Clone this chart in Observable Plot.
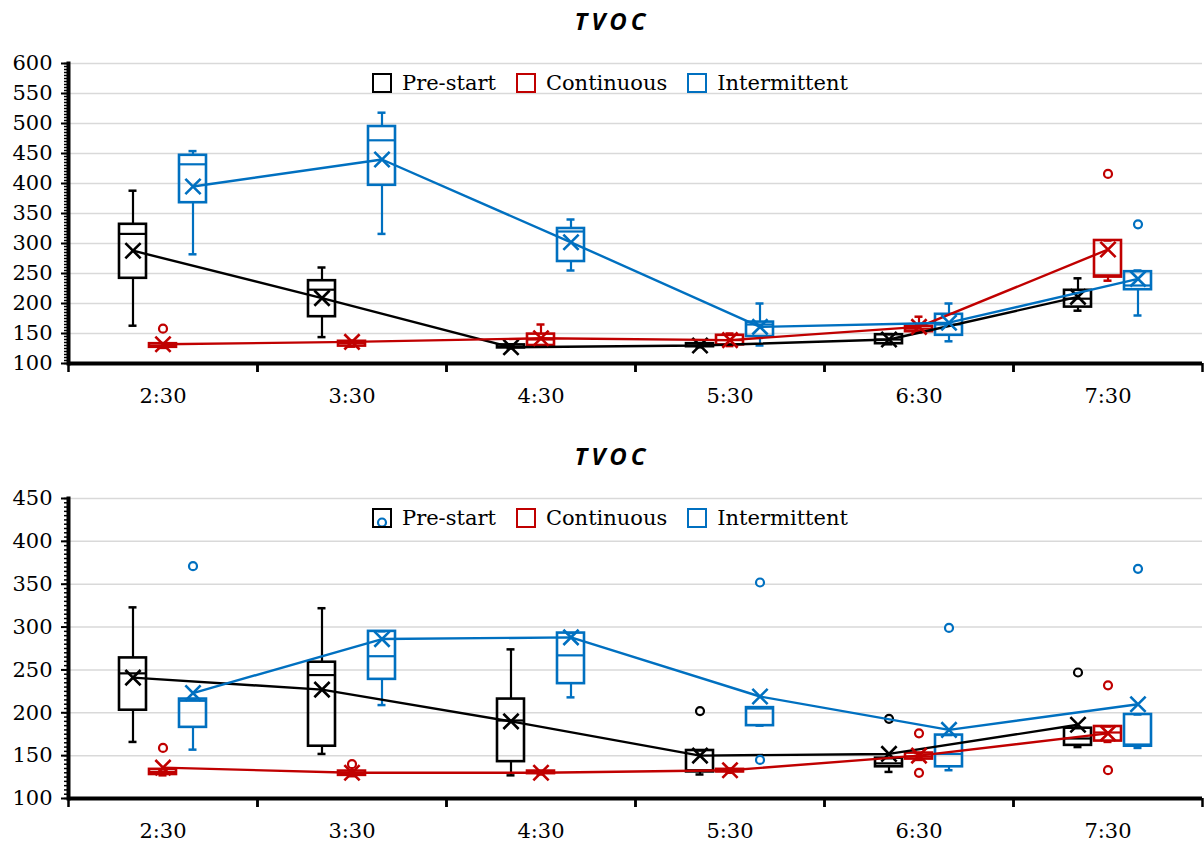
<!DOCTYPE html>
<html><head><meta charset="utf-8">
<script src="https://cdn.jsdelivr.net/npm/d3@7"></script>
<script src="https://cdn.jsdelivr.net/npm/@observablehq/plot@0.6"></script>
<style>
body{margin:0;background:#fff;width:1204px;height:845px;position:relative;overflow:hidden;color:#000;}
.title{position:absolute;left:10px;width:1204px;text-align:center;font:italic bold 24px "Open Sans";letter-spacing:4px;line-height:30px;}
.legend{position:absolute;display:flex;align-items:center;font:21px "DejaVu Serif";line-height:24px;}
.sw{display:inline-block;box-sizing:border-box;width:20px;height:20px;border:2.5px solid;margin-right:10px;}
.item{display:flex;align-items:center;margin-right:20px;}
.chart{position:absolute;left:0;}
</style></head><body>
<script>
const times = ["2:30","3:30","4:30","5:30","6:30","7:30"];
const series = ["Pre-start","Continuous","Intermittent"];
const seriesColors = ["#000000","#c00000","#0070c0"];
const chartTitle = "TVOC";

// ---------- Top chart ----------
const topPreLo   = [163, 144, 125, 127, 132, 188];
const topPreQ1   = [242, 178, 126, 128, 133, 194];
const topPreMed  = [316, 223, 128, 130, 140, 208];
const topPreQ3   = [332, 238, 131, 133, 148, 222];
const topPreHi   = [388, 260, 132, 134, 149, 242];
const topPreMean = [288, 209, 127, 130, 140, 211];
const topPreOut  = [[], [], [], [], [], []];

const topConLo   = [126, 128, 129, 129, 152, 238];
const topConQ1   = [127, 129, 130, 131, 153, 244];
const topConMed  = [130, 134, 140, 139, 158, 247];
const topConQ3   = [133, 137, 149, 147, 162, 305];
const topConHi   = [134, 138, 165, 150, 178, 305];
const topConMean = [132, 136, 142, 139, 161, 290];
const topConOut  = [[158], [], [], [], [], [416]];

const topIntLo   = [282, 316, 255, 130, 137, 180];
const topIntQ1   = [368, 397, 270, 145, 147, 223];
const topIntMed  = [432, 472, 320, 165, 165, 230];
const topIntQ3   = [447, 495, 325, 169, 182, 253];
const topIntHi   = [454, 518, 340, 200, 200, 255];
const topIntMean = [395, 440, 302, 161, 168, 241];
const topIntOut  = [[], [], [], [], [], [332]];

// ---------- Bottom chart ----------
const botPreLo   = [166, 152, 127, 128, 131, 160];
const botPreQ1   = [203, 161, 143, 131, 137, 162];
const botPreMed  = [246, 244, 191, 133, 141, 170];
const botPreQ3   = [264, 259, 216, 156, 147, 182];
const botPreHi   = [323, 322, 274, 156, 147, 182];
const botPreMean = [241, 227, 190, 150, 152, 186];
const botPreOut  = [[], [], [], [202], [193], [247]];

const botConLo   = [127, 126, 128, 130, 145, 166];
const botConQ1   = [128, 127, 129, 131, 146, 167];
const botConMed  = [131, 129, 130, 132, 149, 177];
const botConQ3   = [134, 132, 132, 134, 153, 184];
const botConHi   = [134, 133, 132, 135, 153, 184];
const botConMean = [136, 130, 130, 133, 150, 176];
const botConOut  = [[159], [140], [], [], [176, 130], [232, 133]];

const botIntLo   = [157, 209, 218, 185, 133, 159];
const botIntQ1   = [183, 239, 234, 185, 137, 161];
const botIntMed  = [214, 266, 267, 205, 152, 163];
const botIntQ3   = [216, 295, 293, 206, 174, 198];
const botIntHi   = [216, 295, 293, 206, 174, 198];
const botIntMean = [223, 286, 288, 219, 180, 210];
const botIntOut  = [[371], [422], [], [352, 145], [299], [368]];

function boxRows(lo, q1, med, q3, hi, mean) {
  return times.map((t, i) => ({time: t, lo: lo[i], q1: q1[i], med: med[i], q3: q3[i], hi: hi[i], mean: mean[i]}));
}
function outRows(out) {
  return out.flatMap((arr, i) => arr.map(v => ({time: times[i], v})));
}

const topData = [
  {rows: boxRows(topPreLo, topPreQ1, topPreMed, topPreQ3, topPreHi, topPreMean), out: outRows(topPreOut)},
  {rows: boxRows(topConLo, topConQ1, topConMed, topConQ3, topConHi, topConMean), out: outRows(topConOut)},
  {rows: boxRows(topIntLo, topIntQ1, topIntMed, topIntQ3, topIntHi, topIntMean), out: outRows(topIntOut)}
];
const botData = [
  {rows: boxRows(botPreLo, botPreQ1, botPreMed, botPreQ3, botPreHi, botPreMean), out: outRows(botPreOut)},
  {rows: boxRows(botConLo, botConQ1, botConMed, botConQ3, botConHi, botConMean), out: outRows(botConOut)},
  {rows: boxRows(botIntLo, botIntQ1, botIntMed, botIntQ3, botIntHi, botIntMean), out: outRows(botIntOut)}
];

function makeChart({yMin, yMax, height, mt, mb, data}) {
  const W = 1204, ML = 68, MR = 2;
  const bw = (W - ML - MR) / times.length;
  const major = d3.range(yMin, yMax + 1, 50);
  const minor = d3.range(yMin, yMax + 0.1, 5);
  const marks = [
    Plot.ruleY(major.filter(v => v > yMin), {stroke: "#d9d9d9", strokeWidth: 1.5}),
    Plot.axisY({ticks: minor, tickSize: 4, tickFormat: () => "", strokeWidth: 1.5, label: null}),
    Plot.axisY({ticks: major, tickSize: 7, tickPadding: 9, strokeWidth: 2, label: null}),
    Plot.axisX({tickSize: 0, tickPadding: 25, label: null}),
    Plot.axisX({tickSize: 9, tickFormat: () => "", dx: -bw / 2, strokeWidth: 2.5, label: null}),
    Plot.axisX({tickSize: 9, tickFormat: () => "", dx: bw / 2, strokeWidth: 2.5, label: null}),
    Plot.frame({anchor: "left", strokeWidth: 4}),
    Plot.ruleY([yMin], {strokeWidth: 4})
  ];
  const boxInset = (bw - 27) / 2, capInset = (bw - 8) / 2;
  data.forEach((s, k) => {
    const dx = (k - 1) * 30, c = seriesColors[k];
    marks.push(
      Plot.ruleX(s.rows, {x: "time", y1: "lo", y2: "q1", stroke: c, strokeWidth: 2.2, dx}),
      Plot.ruleX(s.rows, {x: "time", y1: "q3", y2: "hi", stroke: c, strokeWidth: 2.2, dx}),
      Plot.tickY(s.rows, {x: "time", y: "lo", stroke: c, strokeWidth: 2.5, insetLeft: capInset, insetRight: capInset, dx}),
      Plot.tickY(s.rows, {x: "time", y: "hi", stroke: c, strokeWidth: 2.5, insetLeft: capInset, insetRight: capInset, dx}),
      Plot.barY(s.rows, {x: "time", y1: "q1", y2: "q3", fill: "none", stroke: c, strokeWidth: 2.6, insetLeft: boxInset, insetRight: boxInset, dx}),
      Plot.tickY(s.rows, {x: "time", y: "med", stroke: c, strokeWidth: 2.2, insetLeft: boxInset, insetRight: boxInset, dx})
    );
  });
  data.forEach((s, k) => {
    const dx = (k - 1) * 30, c = seriesColors[k];
    marks.push(
      Plot.line(s.rows, {x: "time", y: "mean", stroke: c, strokeWidth: 2.4, dx}),
      Plot.dot(s.rows, {x: "time", y: "mean", symbol: "times", r: 7, stroke: c, strokeWidth: 2.6, dx}),
      Plot.dot(s.out, {x: "time", y: "v", r: 4, stroke: c, fill: "white", strokeWidth: 2.2, dx})
    );
  });
  return Plot.plot({
    width: W, height, marginLeft: ML, marginRight: MR, marginTop: mt, marginBottom: mb,
    x: {domain: times, padding: 0, label: null},
    y: {domain: [yMin, yMax], label: null},
    style: {fontFamily: "DejaVu Serif", fontSize: "21px", color: "#000", background: "white", overflow: "visible"},
    marks
  });
}

function addTitle(top) {
  const d = document.createElement("div");
  d.className = "title"; d.style.top = top + "px"; d.textContent = chartTitle;
  document.body.appendChild(d);
}
function addChart(top, el) {
  const d = document.createElement("div");
  d.className = "chart"; d.style.top = top + "px"; d.appendChild(el);
  document.body.appendChild(d);
}
function addLegend(left, top) {
  const d = document.createElement("div");
  d.className = "legend"; d.style.left = left + "px"; d.style.top = top + "px";
  series.forEach((s, k) => {
    const it = document.createElement("div"); it.className = "item";
    const sw = document.createElement("span"); sw.className = "sw"; sw.style.borderColor = seriesColors[k];
    const tx = document.createElement("span"); tx.textContent = s;
    it.appendChild(sw); it.appendChild(tx); d.appendChild(it);
  });
  document.body.appendChild(d);
}

addTitle(6);
addChart(40, makeChart({yMin: 100, yMax: 600, height: 380, mt: 23, mb: 57, data: topData}));
addLegend(372, 71);
addTitle(441);
addChart(475, makeChart({yMin: 100, yMax: 450, height: 370, mt: 23, mb: 47, data: botData}));
addLegend(372, 506);
</script>
</body></html>
